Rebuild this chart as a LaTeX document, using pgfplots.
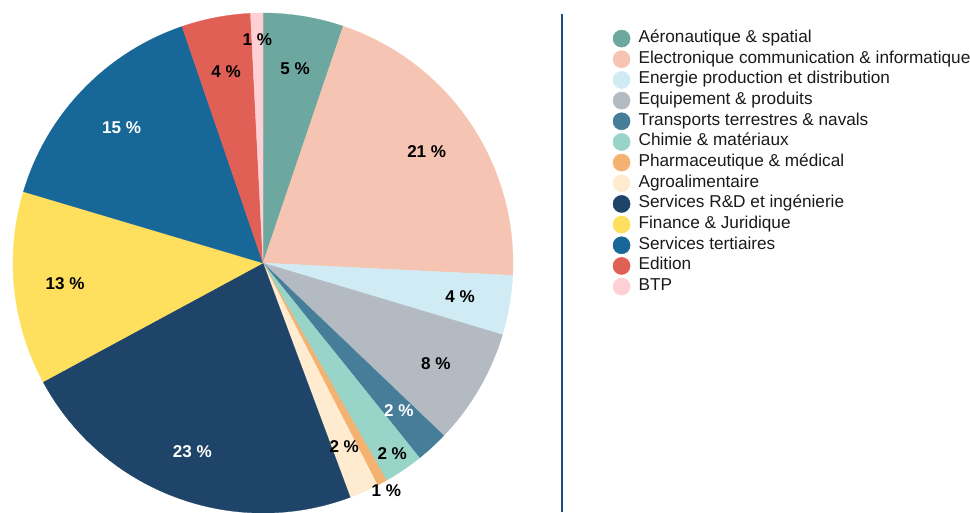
\documentclass[border=0pt]{standalone}
\usepackage{pgfplots}
\usepackage{pgfplotstable}
\pgfplotsset{compat=1.18}
\usepackage{fontspec}
\setmainfont{Liberation Sans}

\definecolor{c0}{HTML}{6DA8A0}
\definecolor{c1}{HTML}{F6C4B2}
\definecolor{c2}{HTML}{D0EBF3}
\definecolor{c3}{HTML}{B4BAC1}
\definecolor{c4}{HTML}{467E9A}
\definecolor{c5}{HTML}{98D5C8}
\definecolor{c6}{HTML}{F3B271}
\definecolor{c7}{HTML}{FFEBD0}
\definecolor{c8}{HTML}{1E4569}
\definecolor{c9}{HTML}{FEDF5E}
\definecolor{c10}{HTML}{186799}
\definecolor{c11}{HTML}{E06055}
\definecolor{c12}{HTML}{FFD0D3}
\definecolor{sepline}{HTML}{1E4E7C}
\definecolor{legtext}{HTML}{1A1A1A}

% share (% of the pie), label text, label radius (px), label colour
\pgfplotstableread{
val   lbl lr  lc
5.2   5   197 black
20.6  21  198 black
3.85  4   200 black
7.5   8   200 black
2.1   2   201 white
2.55  2   230 black
0.65  1   259 black
1.9   2   201 black
22.8  23  201 white
12.5  13  199 black
15.15 15  196 white
4.45  4   195 black
0.8   1   223 black
}\piedata

\def\pietotal{100.05}
\gdef\cum{0}
\foreach \i in {0,...,12}{%
  \pgfplotstablegetelem{\i}{val}\of\piedata \let\v\pgfplotsretval
  \pgfmathsetmacro\aa{90-360*(\cum/\pietotal)}%
  \pgfmathsetmacro\cumnew{\cum+\v}%
  \xdef\cum{\cumnew}%
  \pgfmathsetmacro\bb{90-360*(\cum/\pietotal)}%
  \pgfmathsetmacro\mm{(\aa+\bb)/2}%
  \expandafter\xdef\csname pa\i\endcsname{\aa}%
  \expandafter\xdef\csname pb\i\endcsname{\bb}%
  \expandafter\xdef\csname pm\i\endcsname{\mm}%
  \pgfplotstablegetelem{\i}{lbl}\of\piedata
  \expandafter\xdef\csname pl\i\endcsname{\pgfplotsretval}%
  \pgfplotstablegetelem{\i}{lr}\of\piedata
  \pgfmathsetmacro\rr{\pgfplotsretval*0.75}%
  \expandafter\xdef\csname pr\i\endcsname{\rr}%
  \pgfplotstablegetelem{\i}{lc}\of\piedata
  \expandafter\xdef\csname pc\i\endcsname{\pgfplotsretval}%
}

\begin{document}
\begin{tikzpicture}
\useasboundingbox (0,0) rectangle (727.5pt,384pt);
\begin{axis}[
  at={(0,0)}, anchor=south west,
  x=0.75pt, y=0.75pt,
  xmin=0, xmax=970, ymin=0, ymax=512,
  hide axis, clip=true,
  legend style={
    at={(axis cs:612.5,484)}, anchor=north west,
    draw=none, fill=none, inner sep=0pt, row sep=0pt,
    column sep=6.2pt,
    font=\fontsize{12.9}{15.5}\selectfont, text=legtext,
    nodes={inner sep=0pt, text height=10.6pt, text depth=4.9pt},
  },
  legend cell align=left,
]
\pgfplotsinvokeforeach{0,...,12}{%
  \fill[c#1, draw=c#1, line width=0.2pt] (axis cs:263,249) -- ([shift={(\csname pa#1\endcsname:187.5pt)}]axis cs:263,249)
     arc[start angle=\csname pa#1\endcsname, end angle=\csname pb#1\endcsname, radius=187.5pt] -- cycle;
}
\pgfplotsinvokeforeach{0,...,12}{%
  \node[text=\csname pc#1\endcsname, font=\fontsize{12.8}{14}\selectfont\bfseries, inner sep=0pt]
    at ([shift={(\csname pm#1\endcsname:\csname pr#1\endcsname pt)}]axis cs:263,249) {\csname pl#1\endcsname\ \%};
}
\addplot[sepline, line width=0.8pt, forget plot] coordinates {(562,0) (562,498)};
\pgfplotsinvokeforeach{0,...,12}{%
  \addlegendimage{legend image code/.code={\fill[c#1] (0pt,0pt) circle[radius=6.4pt];}}
}
\legend{A\'eronautique \& spatial, Electronique communication \& informatique,
  Energie production et distribution, Equipement \& produits,
  Transports terrestres \& navals, Chimie \& mat\'eriaux,
  Pharmaceutique \& m\'edical, Agroalimentaire, Services R\&D et ing\'enierie,
  Finance \& Juridique, Services tertiaires, Edition, BTP}
\end{axis}
\end{tikzpicture}
\end{document}
